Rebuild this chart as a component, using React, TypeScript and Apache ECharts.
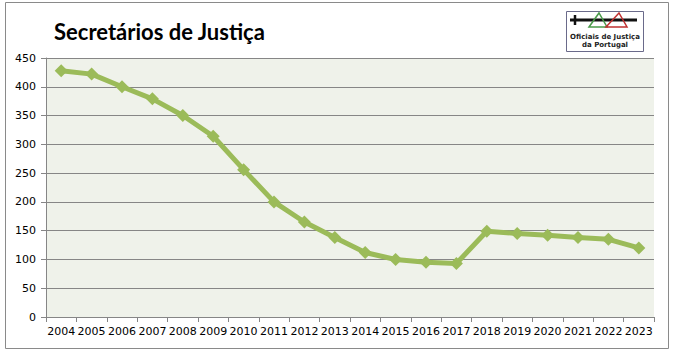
import React, { useEffect, useRef } from "react";
import * as echarts from "echarts";

const years = ["2004","2005","2006","2007","2008","2009","2010","2011","2012","2013","2014","2015","2016","2017","2018","2019","2020","2021","2022","2023"];
const values = [428, 422, 400, 379, 350, 314, 256, 200, 165, 138, 112, 100, 95, 93, 149, 145, 142, 138, 135, 120];
const title = "Secretários de Justiça";
const logoLines = ["Oficiais de Justiça", "da Portugal"];

export default function App() {
  const ref = useRef<HTMLDivElement>(null);
  useEffect(() => {
    const chart = echarts.init(ref.current!, null, { renderer: "svg" });
    chart.setOption({
      animation: false,
      backgroundColor: "#ffffff",
      title: {
        text: title,
        left: 49,
        top: 15,
        textStyle: { fontFamily: "Lato", fontWeight: "bold", fontSize: 22, color: "#000" },
      },
      grid: {
        left: 46, right: 19, top: 58, bottom: 37,
        show: true, backgroundColor: "#EFF2EA", borderWidth: 0,
      },
      xAxis: {
        type: "category",
        data: years,
        boundaryGap: true,
        axisLine: { lineStyle: { color: "#868686" } },
        axisTick: { show: true, length: 5, alignWithLabel: false, lineStyle: { color: "#868686" } },
        axisLabel: { color: "#000", fontFamily: "DejaVu Sans", fontSize: 11, margin: 9, interval: 0 },
      },
      yAxis: {
        type: "value",
        min: 0, max: 450, interval: 50,
        axisLine: { show: true, lineStyle: { color: "#868686" } },
        axisTick: { show: true, length: 5, lineStyle: { color: "#868686" } },
        splitLine: { lineStyle: { color: "#868686" } },
        axisLabel: { color: "#000", fontFamily: "DejaVu Sans", fontSize: 11, margin: 10 },
      },
      series: [{
        type: "line",
        data: values,
        symbol: "diamond",
        symbolSize: 13,
        lineStyle: { color: "#9BBB59", width: 5 },
        itemStyle: { color: "#9BBB59" },
      }],
      graphic: [
        { type: "rect", shape: { x: 5.5, y: 2.5, width: 663, height: 346 }, style: { fill: "none", stroke: "#8a8a8a", lineWidth: 1 }, z: 100 },
        { type: "rect", shape: { x: 566.5, y: 11.5, width: 77, height: 40 }, style: { fill: "#fff", stroke: "#6a6a8a", lineWidth: 1 }, z: 100 },
        { type: "line", shape: { x1: 570, y1: 20, x2: 637, y2: 20 }, style: { stroke: "#111", lineWidth: 3 }, z: 101 },
        { type: "line", shape: { x1: 575, y1: 15, x2: 575, y2: 25 }, style: { stroke: "#111", lineWidth: 2.5 }, z: 101 },
        { type: "polygon", shape: { points: [[589, 27], [599, 13], [607, 27]] }, style: { fill: "none", stroke: "#4a9a4a", lineWidth: 1.5 }, z: 101 },
        { type: "polygon", shape: { points: [[606, 27], [619, 13], [627, 27]] }, style: { fill: "none", stroke: "#c03030", lineWidth: 1.5 }, z: 101 },
        { type: "text", style: { text: logoLines[0], x: 605, y: 37, align: "center", verticalAlign: "middle", font: "bold 7px 'DejaVu Sans'", fill: "#222" }, z: 101 },
        { type: "text", style: { text: logoLines[1], x: 605, y: 45, align: "center", verticalAlign: "middle", font: "bold 7px 'DejaVu Sans'", fill: "#222" }, z: 101 },
      ],
    });
    return () => chart.dispose();
  }, []);
  return <div ref={ref} style={{ position: "fixed", left: 0, top: 0, width: 673, height: 354 }} />;
}
